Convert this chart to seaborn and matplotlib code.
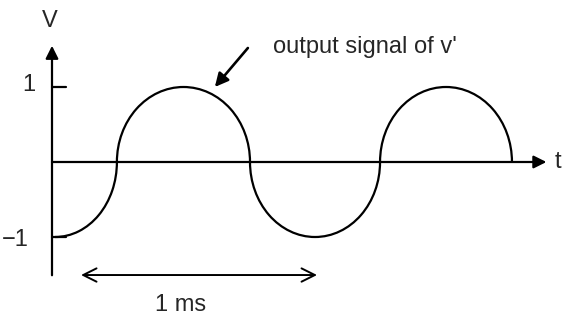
import matplotlib
matplotlib.use("Agg")
import matplotlib.pyplot as plt
from matplotlib.patches import Arc
import seaborn as sns

# waveform: half-elliptic arcs between zero crossings (t in ms, v in volts)
arc_start = [0.013, 0.275, 0.839, 1.390]
arc_end = [0.275, 0.839, 1.390, 1.949]
arc_sign = [-1, 1, -1, 1]
amplitude = 1.0

# axis ticks and labels
v_ticks = [1, -1]
v_tick_labels = ["1", "\u22121"]
v_label_x = [-0.072, -0.10]
v_label_y = [1.03, -1.04]
span_ms = [0.123, 1.123]
span_label = "1 ms"
note_text = "output signal of v'"

sns.set_theme(style="white")
plt.rcParams['font.family'] = ['Liberation Sans Narrow', 'Liberation Sans', 'DejaVu Sans']
fs = 17

fig = plt.figure(figsize=(5.63, 3.22), dpi=100)
ax = fig.add_axes([0, 0, 1, 1])
ax.set_xlim(-52 / 236, 511 / 236)
ax.set_ylim(-160 / 75, 162 / 75)
ax.axis("off")

lw = 1.6
# waveform arcs
for i, (a, b, s) in enumerate(zip(arc_start, arc_end, arc_sign)):
    if i == 0:
        # first piece: quarter arc starting at the trough
        w = 2 * (b - a)
        ax.add_patch(Arc((a, 0), w, 2 * amplitude, theta1=270, theta2=360,
                         color="black", lw=lw))
    else:
        c = (a + b) / 2
        th = (0, 180) if s > 0 else (180, 360)
        ax.add_patch(Arc((c, 0), b - a, 2 * amplitude, theta1=th[0], theta2=th[1],
                         color="black", lw=lw))

# axes with arrowheads
ax.annotate("", xy=(0, 1.55), xytext=(0, -1.51),
            arrowprops=dict(arrowstyle="-|>", color="black", lw=lw,
                            mutation_scale=19, shrinkA=0, shrinkB=0))
ax.annotate("", xy=(2.095, 0), xytext=(0, 0),
            arrowprops=dict(arrowstyle="-|>", color="black", lw=lw,
                            mutation_scale=19, shrinkA=0, shrinkB=0))

# tick marks on v axis
for v, lab, lx, ly in zip(v_ticks, v_tick_labels, v_label_x, v_label_y):
    ax.plot([0, 0.06], [v, v], color="black", lw=lw)
    ax.text(lx, ly, lab, ha="right", va="center", fontsize=fs)

ax.text(-0.008, 1.88, "V", ha="center", va="center", fontsize=fs)
ax.text(2.13, 0.0, "t", ha="left", va="center", fontsize=fs)

# 1 ms span
ax.annotate("", xy=(span_ms[0], -1.507), xytext=(span_ms[1], -1.507),
            arrowprops=dict(arrowstyle="<->", color="black", lw=1.4,
                            mutation_scale=24, shrinkA=0, shrinkB=0))
ax.text(0.545, -1.91, span_label, ha="center", va="center", fontsize=fs)

# annotation for the signal
ax.annotate("", xy=(0.69, 1.0), xytext=(0.83, 1.52),
            arrowprops=dict(arrowstyle="-|>", color="black", lw=1.9,
                            mutation_scale=20, shrinkA=0, shrinkB=0))
ax.text(0.936, 1.53, note_text, ha="left", va="center", fontsize=fs)

plt.savefig("out.png", dpi=100, facecolor="white")
